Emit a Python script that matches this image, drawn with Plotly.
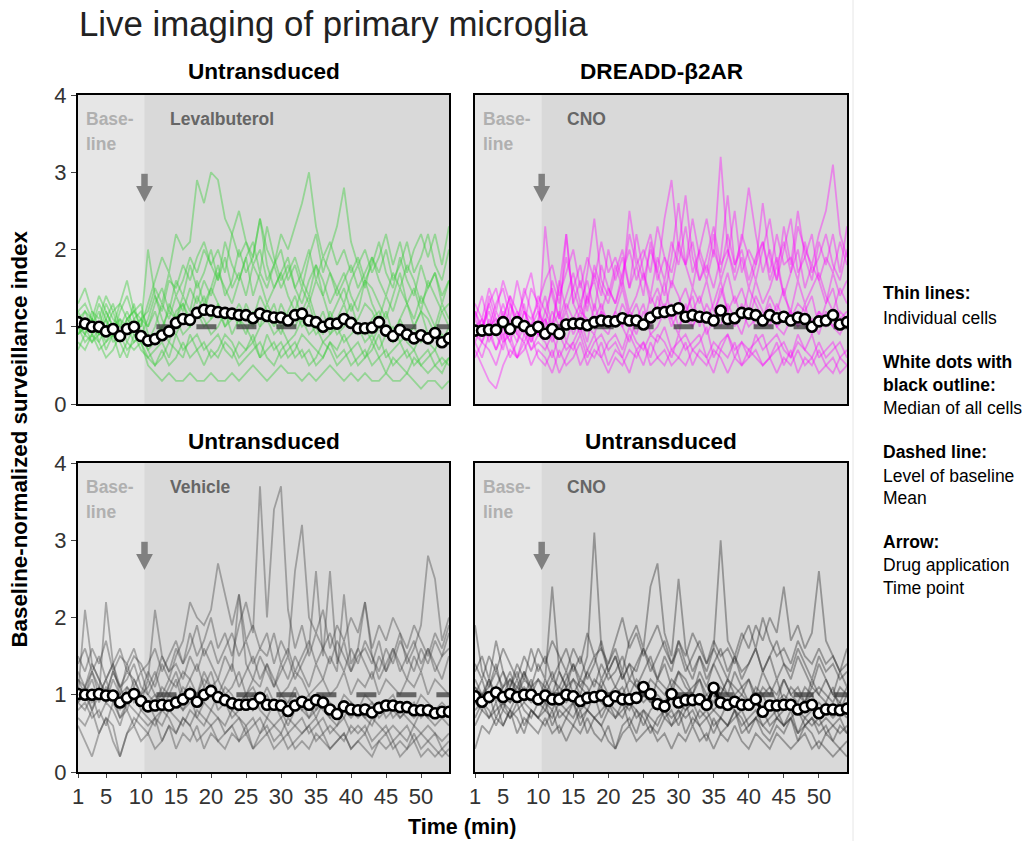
import plotly.graph_objects as go

# ---------------- data ----------------
time_min = list(range(1, 55))
x_tick_vals = [1, 5, 10, 15, 20, 25, 30, 35, 40, 45, 50]
y_tick_vals = [0, 1, 2, 3, 4]

panel_titles = ["Untransduced", "DREADD-β2AR", "Untransduced", "Untransduced"]
drug_labels = ["Levalbuterol", "CNO", "Vehicle", "CNO"]
drug_time = 10.5
baseline_level = 1.0

median_leva = [1.06, 1.04, 1.0, 1.0, 0.94, 0.97, 0.88, 0.97, 1.0, 0.88,
               0.82, 0.84, 0.89, 0.94, 1.05, 1.1, 1.09, 1.18, 1.22, 1.21,
               1.19, 1.18, 1.17, 1.15, 1.15, 1.11, 1.17, 1.14, 1.12, 1.12,
               1.08, 1.15, 1.17, 1.08, 1.06, 1.0, 1.04, 1.04, 1.1, 1.05,
               0.98, 0.98, 0.99, 1.06, 0.95, 0.88, 0.96, 0.9, 0.85, 0.89,
               0.85, 0.92, 0.8, 0.85]
median_dreadd = [0.95, 0.95, 0.96, 0.96, 1.06, 0.97, 1.06, 1.01, 0.95, 1.0,
                 0.91, 0.97, 0.91, 1.03, 1.04, 1.04, 1.02, 1.06, 1.08, 1.07,
                 1.07, 1.11, 1.08, 1.08, 1.03, 1.12, 1.18, 1.19, 1.21, 1.24,
                 1.13, 1.15, 1.13, 1.12, 1.08, 1.21, 1.1, 1.11, 1.18, 1.17,
                 1.15, 1.08, 1.15, 1.11, 1.13, 1.08, 1.12, 1.1, 1.0, 1.07,
                 1.08, 1.15, 1.03, 1.06]
median_vehicle = [1.01, 1.0, 1.0, 1.01, 0.99, 0.99, 0.9, 0.96, 1.01, 0.92,
                  0.85, 0.86, 0.87, 0.86, 0.9, 0.94, 1.01, 0.91, 1.0, 1.05,
                  0.97, 0.93, 0.89, 0.87, 0.87, 0.88, 0.96, 0.87, 0.87, 0.86,
                  0.79, 0.86, 0.91, 0.87, 0.93, 0.9, 0.81, 0.75, 0.85, 0.81,
                  0.8, 0.81, 0.77, 0.83, 0.86, 0.86, 0.84, 0.84, 0.8, 0.8,
                  0.8, 0.76, 0.78, 0.78]
median_cno = [0.98, 0.91, 0.97, 1.03, 0.97, 1.01, 0.97, 1.0, 1.0, 0.94,
              0.99, 0.94, 0.94, 1.0, 0.98, 0.92, 0.96, 0.97, 0.99, 0.92,
              0.98, 0.94, 0.94, 0.96, 1.1, 1.01, 0.88, 0.85, 1.01, 0.9,
              0.93, 0.93, 0.94, 0.87, 1.09, 0.9, 0.87, 0.91, 0.87, 0.87,
              0.94, 0.78, 0.86, 0.86, 0.87, 0.87, 0.81, 0.84, 0.87, 0.76,
              0.81, 0.81, 0.8, 0.82]

cells_leva = [
    [1.1, 1.2, 1.0, 1.3, 1.1, 0.9, 1.2, 1.4, 1.1, 1.0, 1.3, 1.6, 1.9, 1.7, 2.2, 2.0, 2.1, 2.9, 2.6, 3.0,
     2.9, 2.4, 2.2, 1.9, 2.1, 1.8, 2.0, 1.6, 1.8, 1.5, 1.7, 1.9, 1.6, 1.4, 1.8, 1.6, 1.3, 1.5, 1.7, 1.4,
     1.2, 1.6, 1.5, 1.3, 1.1, 1.4, 1.7, 1.3, 1.5, 1.2, 1.6, 1.4, 1.2, 1.3],
    [1.0, 0.9, 1.1, 0.8, 1.0, 1.2, 0.9, 1.0, 1.3, 0.9, 1.1, 1.4, 1.2, 1.6, 1.5, 1.8, 1.6, 1.9, 2.1, 1.8,
     2.0, 1.7, 2.2, 2.5, 2.1, 1.9, 2.4, 2.0, 1.8, 2.2, 2.0, 2.3, 2.6, 3.0, 2.3, 1.9, 2.1, 1.8, 2.0, 1.7,
     1.9, 1.6, 1.8, 2.1, 1.7, 1.5, 1.9, 1.6, 1.4, 1.8, 1.5, 1.7, 1.3, 1.6],
    [0.9, 1.1, 1.0, 1.2, 0.9, 1.0, 1.1, 0.8, 1.0, 1.1, 0.8, 1.0, 1.3, 1.1, 1.4, 1.2, 1.5, 1.3, 1.6, 1.4,
     1.7, 1.5, 1.3, 1.6, 1.9, 1.4, 1.7, 1.5, 1.8, 2.0, 1.6, 1.8, 1.5, 1.9, 2.2, 1.7, 2.0, 2.3, 2.8, 2.1,
     1.8, 2.0, 1.7, 1.9, 2.2, 1.8, 2.1, 1.7, 2.0, 2.2, 1.9, 2.2, 1.8, 2.3],
    [1.0, 0.8, 0.9, 0.7, 0.8, 0.9, 0.6, 0.8, 0.7, 0.8, 0.5, 0.4, 0.3, 0.4, 0.3, 0.3, 0.4, 0.3, 0.3, 0.4,
     0.3, 0.3, 0.4, 0.3, 0.4, 0.5, 0.4, 0.3, 0.4, 0.5, 0.4, 0.4, 0.3, 0.4, 0.3, 0.4, 0.5, 0.4, 0.3, 0.4,
     0.3, 0.4, 0.3, 0.3, 0.4, 0.3, 0.3, 0.4, 0.3, 0.2, 0.3, 0.3, 0.2, 0.3],
    [0.9, 1.0, 0.8, 0.9, 1.1, 0.8, 0.9, 1.0, 0.9, 0.8, 0.6, 0.7, 0.8, 0.6, 0.9, 0.7, 0.8, 0.9, 0.7, 0.8,
     0.9, 0.7, 0.6, 0.8, 0.7, 0.9, 0.6, 0.7, 0.8, 0.6, 0.7, 0.8, 0.6, 0.7, 0.5, 0.6, 0.8, 0.6, 0.7, 0.5,
     0.6, 0.7, 0.5, 0.6, 0.4, 0.6, 0.5, 0.4, 0.6, 0.5, 0.4, 0.5, 0.6, 0.5],
    [1.2, 1.0, 1.1, 0.9, 1.2, 1.0, 0.8, 1.1, 1.2, 1.0, 2.0, 1.4, 1.1, 0.9, 1.2, 1.3, 1.1, 1.4, 1.2, 1.5,
     1.3, 1.1, 1.2, 1.0, 1.3, 1.1, 1.4, 1.2, 1.0, 1.3, 1.1, 1.0, 1.2, 1.4, 1.1, 0.9, 1.2, 1.0, 1.1, 1.3,
     1.0, 0.9, 1.1, 1.2, 1.0, 0.8, 1.1, 0.9, 1.0, 1.2, 0.9, 1.0, 0.8, 1.0],
    [1.3, 1.5, 1.2, 1.1, 1.4, 1.2, 1.3, 1.6, 1.2, 1.1, 1.0, 1.3, 1.5, 1.2, 1.6, 1.4, 1.8, 1.5, 1.7, 2.0,
     1.6, 1.9, 1.5, 1.7, 1.4, 1.8, 1.6, 1.3, 1.5, 1.7, 1.4, 1.2, 1.5, 1.3, 1.6, 1.4, 1.1, 1.3, 1.5, 1.2,
     1.4, 1.6, 1.3, 1.1, 1.4, 1.2, 1.5, 1.3, 1.1, 1.4, 1.2, 1.0, 1.3, 1.1],
    [0.8, 0.7, 0.9, 0.8, 0.6, 0.7, 0.9, 0.7, 0.8, 0.9, 0.7, 0.5, 0.6, 0.8, 0.7, 0.6, 0.9, 0.7, 0.8, 0.6,
     0.7, 0.9, 0.8, 0.6, 0.7, 0.8, 0.6, 0.9, 0.7, 0.8, 0.6, 0.7, 0.9, 0.8, 0.7, 0.6, 0.8, 0.7, 0.9, 0.7,
     0.8, 0.6, 0.7, 0.9, 0.6, 0.7, 0.8, 0.6, 0.7, 0.5, 0.6, 0.7, 0.5, 0.6],
    [1.1, 0.9, 1.2, 1.0, 1.3, 1.1, 1.0, 0.9, 1.1, 1.2, 1.0, 1.2, 0.9, 1.3, 1.1, 1.4, 1.2, 1.6, 1.3, 1.5,
     1.8, 1.4, 1.6, 2.0, 1.7, 1.9, 2.4, 1.8, 1.5, 1.7, 1.9, 1.5, 1.3, 1.6, 1.8, 1.4, 1.7, 1.5, 1.3, 1.6,
     1.8, 1.5, 1.9, 1.7, 2.0, 1.6, 1.8, 2.1, 1.7, 1.9, 2.2, 1.8, 1.6, 2.0],
    [1.0, 1.1, 0.9, 1.0, 0.8, 1.0, 0.9, 1.1, 1.0, 0.9, 0.8, 0.9, 1.0, 0.8, 1.1, 0.9, 1.0, 1.2, 1.1, 0.9,
     1.0, 1.2, 0.9, 1.1, 1.0, 0.8, 1.0, 1.1, 0.9, 1.0, 0.8, 0.9, 1.1, 0.9, 1.0, 0.8, 0.9, 1.0, 0.8, 0.9,
     1.0, 0.8, 0.9, 0.7, 0.9, 0.8, 1.0, 0.8, 0.7, 0.9, 0.8, 0.7, 0.9, 0.8],
    [1.2, 1.3, 1.1, 1.4, 1.2, 1.0, 1.3, 1.1, 1.2, 1.3, 0.9, 0.8, 1.0, 1.2, 1.1, 1.3, 1.0, 1.2, 1.4, 1.1,
     1.3, 1.0, 1.2, 1.1, 0.9, 1.2, 1.0, 1.3, 1.1, 0.9, 1.2, 1.4, 1.1, 1.3, 1.0, 1.2, 0.9, 1.1, 1.3, 1.0,
     1.1, 1.3, 1.2, 1.0, 1.2, 0.9, 1.1, 1.3, 1.0, 1.2, 1.1, 0.9, 1.2, 1.0],
    [0.7, 0.9, 0.8, 1.0, 0.7, 0.9, 0.8, 0.6, 0.9, 0.7, 0.6, 0.5, 0.7, 0.5, 0.6, 0.8, 0.6, 0.7, 0.5, 0.7,
     0.6, 0.8, 0.7, 0.5, 0.6, 0.7, 0.8, 0.6, 0.5, 0.7, 0.8, 0.6, 0.7, 0.5, 0.6, 0.8, 0.7, 0.5, 0.6, 0.7,
     0.5, 0.6, 0.8, 0.6, 0.7, 0.5, 0.6, 0.7, 0.5, 0.6, 0.7, 0.5, 0.4, 0.6],
    [1.0, 1.2, 1.1, 0.9, 1.1, 1.3, 1.0, 1.2, 1.0, 1.1, 1.2, 1.5, 1.3, 1.7, 1.4, 1.6, 1.9, 1.7, 2.0, 1.8,
     1.6, 2.1, 1.8, 1.6, 1.9, 2.1, 1.7, 2.3, 1.9, 1.6, 1.8, 1.5, 1.7, 2.0, 1.6, 1.9, 1.7, 1.4, 1.6, 1.8,
     1.5, 1.7, 1.9, 1.6, 1.4, 1.7, 1.5, 1.8, 1.6, 1.3, 1.5, 1.7, 1.4, 1.6],
    [0.9, 1.0, 1.1, 0.9, 1.0, 0.9, 1.1, 1.0, 0.8, 0.9, 0.7, 0.8, 0.9, 1.0, 0.9, 1.1, 1.0, 1.2, 1.0, 1.1,
     1.2, 1.0, 1.1, 1.3, 1.1, 1.0, 1.2, 1.1, 1.3, 1.0, 1.1, 1.2, 1.0, 1.1, 0.9, 1.0, 1.1, 0.9, 1.0, 1.1,
     0.9, 1.0, 0.8, 1.0, 0.9, 1.0, 0.8, 0.9, 1.0, 0.8, 0.9, 1.0, 0.8, 0.9],
]

cells_dreadd = [
    [1.0, 0.8, 1.1, 0.9, 1.2, 0.9, 1.0, 1.3, 0.8, 1.1, 1.4, 1.0, 1.6, 1.2, 1.5, 1.8, 1.3, 1.7, 1.4, 2.0,
     1.6, 1.9, 1.5, 2.2, 1.7, 1.4, 1.9, 1.6, 2.1, 1.8, 2.3, 1.7, 2.0, 2.4, 1.9, 3.2, 2.0, 1.6, 1.9, 1.5,
     1.8, 2.1, 1.6, 1.9, 1.4, 1.7, 2.0, 1.5, 1.8, 1.6, 1.3, 1.7, 1.4, 1.6],
    [0.9, 1.1, 0.8, 1.0, 1.3, 1.0, 0.8, 1.2, 1.0, 0.9, 1.2, 1.5, 1.1, 1.4, 1.7, 1.3, 1.6, 1.2, 1.8, 1.5,
     1.3, 1.7, 2.0, 1.6, 1.9, 2.2, 1.7, 2.4, 2.9, 2.0, 1.8, 2.1, 1.6, 1.9, 2.3, 1.8, 2.0, 1.7, 2.2, 1.9,
     1.6, 2.0, 2.4, 1.8, 2.1, 1.7, 2.3, 2.0, 1.8, 2.2, 2.5, 3.1, 2.2, 1.9],
    [1.2, 0.9, 1.4, 1.1, 0.8, 1.3, 1.0, 1.5, 1.2, 0.9, 2.3, 1.4, 1.1, 2.2, 1.3, 1.6, 1.2, 1.8, 1.5, 1.3,
     1.7, 2.0, 1.5, 1.8, 1.4, 2.1, 1.6, 1.9, 1.5, 2.0, 2.7, 1.9, 1.6, 1.8, 1.5, 1.9, 2.7, 1.8, 2.1, 2.8,
     2.2, 1.7, 2.0, 1.6, 2.3, 1.8, 2.5, 1.9, 1.6, 2.1, 1.8, 2.2, 1.7, 2.3],
    [0.7, 0.5, 0.3, 0.2, 0.5, 0.7, 0.6, 0.8, 0.5, 0.7, 0.6, 0.4, 0.7, 0.5, 0.6, 0.8, 0.5, 0.7, 0.6, 0.4,
     0.6, 0.5, 0.7, 0.6, 0.8, 0.5, 0.6, 0.7, 0.5, 0.6, 0.5, 0.7, 0.6, 0.5, 0.7, 0.6, 0.4, 0.6, 0.5, 0.7,
     0.6, 0.5, 0.6, 0.4, 0.6, 0.5, 0.7, 0.5, 0.6, 0.4, 0.5, 0.6, 0.4, 0.5],
    [1.0, 1.1, 0.9, 1.2, 1.0, 0.8, 1.1, 0.9, 1.0, 1.2, 0.9, 1.0, 1.2, 0.8, 1.1, 1.3, 1.0, 0.9, 1.2, 1.1,
     1.0, 1.3, 1.1, 0.9, 1.2, 1.0, 1.4, 1.1, 1.3, 1.0, 1.2, 1.4, 1.0, 1.3, 1.1, 1.5, 1.2, 1.0, 1.3, 1.1,
     1.4, 1.2, 1.0, 1.3, 1.1, 1.2, 1.0, 1.3, 0.9, 1.2, 1.1, 1.0, 1.2, 1.1],
    [0.9, 0.8, 1.0, 0.7, 0.9, 0.6, 0.8, 1.0, 0.7, 0.9, 0.8, 0.6, 0.9, 0.7, 0.8, 1.0, 0.7, 0.9, 0.6, 0.8,
     0.9, 0.7, 1.0, 0.8, 0.7, 0.9, 0.8, 1.0, 0.7, 0.8, 0.9, 0.7, 0.8, 1.0, 0.6, 0.8, 0.9, 0.7, 0.8, 0.6,
     0.9, 0.7, 0.8, 0.9, 0.7, 0.6, 0.8, 0.7, 0.9, 0.6, 0.7, 0.8, 0.6, 0.7],
    [1.3, 1.1, 1.5, 1.2, 1.6, 1.3, 1.1, 1.4, 1.7, 1.2, 1.0, 1.6, 1.3, 1.9, 1.5, 1.2, 1.7, 2.4, 1.6, 1.4,
     1.8, 1.5, 2.5, 1.9, 1.6, 2.0, 1.7, 1.4, 1.9, 2.6, 1.8, 1.5, 2.0, 1.7, 2.2, 1.6, 1.9, 2.5, 1.7, 2.0,
     1.8, 2.6, 1.9, 1.6, 2.0, 2.4, 1.7, 1.9, 2.2, 1.6, 1.9, 1.7, 2.1, 1.8],
    [0.8, 1.0, 1.2, 0.9, 0.7, 1.1, 0.9, 0.8, 1.0, 0.9, 1.1, 0.8, 1.0, 1.2, 0.9, 1.1, 0.8, 1.3, 1.0, 0.9,
     1.2, 1.0, 0.8, 1.1, 1.3, 0.9, 1.0, 1.2, 1.1, 0.9, 1.3, 1.0, 1.2, 0.9, 1.1, 1.0, 1.3, 1.1, 0.9, 1.2,
     1.0, 1.1, 1.3, 1.0, 0.9, 1.1, 1.2, 1.0, 1.1, 0.9, 1.2, 1.0, 0.9, 1.1],
    [1.1, 1.4, 1.0, 1.3, 1.5, 1.1, 1.6, 1.2, 1.0, 1.4, 1.2, 1.0, 1.5, 2.2, 1.3, 1.1, 1.4, 1.6, 1.2, 1.5,
     1.3, 1.6, 1.2, 1.4, 1.7, 1.3, 1.5, 1.2, 1.6, 1.4, 1.1, 1.5, 1.3, 1.6, 1.2, 1.4, 1.7, 1.3, 1.5, 1.2,
     1.6, 1.3, 1.5, 1.8, 1.4, 1.2, 1.6, 1.3, 1.5, 1.7, 1.4, 1.2, 1.5, 1.3],
    [0.6, 0.8, 0.7, 0.5, 0.8, 0.9, 0.6, 0.7, 0.9, 0.6, 0.5, 0.7, 0.4, 0.6, 0.8, 0.5, 0.7, 0.6, 0.8, 0.5,
     0.7, 0.6, 0.4, 0.7, 0.5, 0.8, 0.6, 0.5, 0.7, 0.6, 0.8, 0.5, 0.7, 0.6, 0.4, 0.7, 0.6, 0.8, 0.5, 0.6,
     0.7, 0.5, 0.6, 0.8, 0.5, 0.7, 0.4, 0.6, 0.5, 0.7, 0.5, 0.4, 0.6, 0.5],
    [1.1, 0.9, 1.3, 1.0, 1.1, 1.4, 0.9, 1.2, 1.1, 1.3, 0.9, 1.2, 1.0, 1.3, 1.1, 0.9, 1.4, 1.1, 1.3, 1.0,
     1.2, 1.5, 1.1, 1.3, 1.0, 1.4, 1.2, 1.6, 1.1, 1.3, 1.5, 1.2, 1.4, 1.1, 1.3, 1.6, 1.2, 1.4, 1.1, 1.5,
     1.3, 1.1, 1.4, 1.2, 1.5, 1.1, 1.3, 1.2, 1.4, 1.0, 1.3, 1.5, 1.1, 1.2],
    [0.8, 0.6, 0.9, 0.7, 1.0, 0.8, 0.6, 0.9, 0.7, 0.8, 0.7, 0.9, 0.6, 0.8, 0.7, 0.9, 0.6, 0.8, 0.9, 0.7,
     0.8, 0.6, 0.9, 0.7, 0.8, 0.6, 0.9, 0.8, 0.6, 0.9, 0.7, 0.8, 0.9, 0.6, 0.8, 0.7, 0.9, 0.6, 0.8, 0.7,
     0.8, 0.9, 0.6, 0.7, 0.8, 0.6, 0.9, 0.7, 0.6, 0.8, 0.6, 0.7, 0.8, 0.6],
    [1.2, 1.0, 1.3, 1.5, 1.1, 1.4, 1.2, 1.0, 1.5, 1.3, 1.6, 1.8, 1.4, 1.7, 2.0, 1.5, 1.9, 1.6, 2.1, 1.7,
     1.9, 1.6, 2.2, 1.8, 2.0, 1.7, 2.3, 1.9, 1.7, 2.1, 1.8, 2.4, 1.9, 1.6, 2.0, 1.7, 2.2, 1.8, 2.0, 1.6,
     1.9, 2.1, 1.7, 2.2, 1.8, 1.9, 1.6, 2.1, 1.7, 1.9, 2.2, 1.8, 1.6, 2.0],
    [1.0, 0.9, 1.0, 1.1, 0.9, 1.0, 1.2, 1.0, 0.8, 1.0, 1.1, 0.9, 1.0, 1.1, 1.0, 1.2, 1.1, 1.0, 1.2, 1.0,
     1.1, 1.0, 1.2, 1.1, 1.0, 1.2, 1.1, 1.3, 1.0, 1.2, 1.1, 1.0, 1.2, 1.1, 1.0, 1.2, 1.0, 1.1, 1.2, 1.0,
     1.1, 1.0, 1.2, 1.0, 1.1, 1.2, 1.0, 1.1, 1.0, 1.2, 1.0, 1.1, 1.0, 1.1],
]

cells_vehicle = [
    [1.2, 1.0, 1.3, 1.1, 0.9, 1.2, 1.0, 1.4, 1.1, 1.3, 1.0, 1.2, 1.5, 1.3, 1.6, 1.4, 1.8, 1.5, 1.7, 2.0,
     1.6, 1.8, 1.5, 1.9, 2.2, 1.8, 3.7, 2.0, 3.4, 3.7, 2.1, 1.6, 1.9, 1.5, 1.8, 1.6, 1.4, 1.7, 1.5, 1.3,
     1.6, 1.4, 1.2, 1.5, 1.3, 1.6, 1.4, 1.2, 1.5, 1.3, 1.6, 1.4, 1.2, 1.5],
    [1.0, 2.1, 1.4, 1.2, 1.0, 1.3, 1.1, 0.9, 1.2, 1.0, 1.3, 1.1, 1.4, 1.2, 1.5, 1.7, 2.2, 2.0, 1.9, 2.1,
     2.7, 2.3, 1.9, 2.3, 1.7, 1.9, 1.6, 1.8, 1.4, 1.7, 1.5, 2.6, 3.2, 2.0, 1.8, 2.1, 1.6, 1.9, 1.7, 2.0,
     1.8, 2.2, 1.6, 1.9, 1.7, 2.0, 1.8, 1.6, 1.9, 1.7, 1.5, 1.8, 1.6, 1.9],
    [0.9, 1.1, 0.8, 1.0, 2.2, 1.4, 1.0, 0.8, 1.1, 0.9, 1.2, 1.0, 0.9, 1.1, 1.3, 1.0, 1.2, 1.4, 1.1, 1.3,
     1.0, 1.2, 1.4, 1.1, 1.3, 1.5, 1.2, 1.4, 1.1, 1.3, 1.5, 1.2, 1.4, 1.6, 2.6, 1.5, 2.6, 1.4, 1.7, 1.3,
     1.5, 1.6, 1.4, 1.7, 1.3, 1.5, 1.8, 1.4, 1.6, 1.9, 2.8, 2.5, 1.7, 2.0],
    [0.6, 0.4, 0.2, 0.5, 0.7, 0.4, 0.2, 0.5, 0.6, 0.4, 0.5, 0.3, 0.4, 0.6, 0.3, 0.5, 0.4, 0.6, 0.3, 0.5,
     0.4, 0.3, 0.5, 0.4, 0.6, 0.3, 0.4, 0.5, 0.3, 0.4, 0.5, 0.3, 0.4, 0.3, 0.5, 0.4, 0.3, 0.4, 0.5, 0.3,
     0.4, 0.3, 0.2, 0.4, 0.3, 0.4, 0.2, 0.3, 0.4, 0.2, 0.3, 0.2, 0.3, 0.2],
    [1.1, 1.0, 1.2, 0.9, 1.1, 1.0, 0.8, 1.1, 1.0, 0.9, 0.8, 0.9, 1.0, 0.8, 0.9, 1.1, 1.0, 0.9, 1.1, 1.0,
     0.9, 1.0, 0.8, 0.9, 1.0, 0.8, 0.9, 1.1, 0.9, 0.8, 0.9, 1.0, 0.8, 0.9, 0.7, 0.9, 0.8, 0.7, 0.9, 0.8,
     0.7, 0.8, 0.9, 0.7, 0.8, 0.9, 0.7, 0.8, 0.7, 0.8, 0.7, 0.8, 0.7, 0.8],
    [0.8, 0.9, 0.7, 0.8, 0.6, 0.9, 0.7, 0.8, 0.6, 0.8, 0.7, 0.6, 0.8, 0.7, 0.5, 0.7, 0.6, 0.8, 0.7, 0.6,
     0.7, 0.5, 0.6, 0.7, 0.5, 0.6, 0.7, 0.5, 0.6, 0.5, 0.7, 0.6, 0.5, 0.6, 0.7, 0.5, 0.6, 0.5, 0.4, 0.6,
     0.5, 0.6, 0.4, 0.5, 0.6, 0.4, 0.5, 0.6, 0.4, 0.5, 0.4, 0.5, 0.3, 0.4],
    [1.4, 1.6, 1.3, 1.5, 1.2, 1.4, 1.6, 1.3, 1.5, 1.4, 1.2, 2.1, 1.5, 1.3, 1.4, 1.2, 1.5, 1.3, 1.6, 1.4,
     1.2, 1.5, 1.3, 2.3, 1.4, 1.2, 1.5, 1.3, 1.1, 1.4, 1.2, 1.5, 1.3, 1.1, 1.4, 1.2, 1.5, 1.3, 2.3, 1.4,
     1.6, 2.2, 1.5, 1.2, 1.4, 1.6, 1.3, 1.5, 1.7, 1.4, 1.6, 1.3, 1.5, 1.8],
    [0.9, 1.0, 0.8, 1.1, 0.9, 1.0, 0.7, 0.9, 1.0, 0.8, 0.9, 0.7, 0.8, 1.0, 0.9, 0.8, 1.0, 0.7, 0.9, 1.1,
     0.8, 0.9, 0.7, 0.8, 0.9, 1.0, 0.8, 0.7, 0.9, 0.8, 0.6, 0.8, 0.9, 0.7, 0.8, 0.9, 0.7, 0.6, 0.8, 0.7,
     0.8, 0.7, 0.6, 0.8, 0.9, 0.7, 0.8, 0.7, 0.6, 0.8, 0.7, 0.6, 0.7, 0.6],
    [1.2, 1.1, 1.3, 1.0, 1.2, 1.4, 1.1, 1.3, 1.2, 1.0, 1.1, 1.3, 1.0, 1.2, 1.1, 1.3, 1.2, 1.0, 1.3, 1.1,
     1.2, 1.0, 1.1, 1.3, 1.0, 1.2, 1.1, 1.4, 1.2, 1.0, 1.1, 1.3, 1.2, 1.0, 1.1, 1.2, 1.0, 1.1, 1.3, 1.0,
     1.2, 1.1, 1.3, 1.0, 1.2, 1.1, 1.0, 1.2, 1.1, 1.3, 1.0, 1.2, 1.1, 1.0],
    [0.7, 0.6, 0.8, 0.5, 0.7, 0.6, 0.2, 0.5, 0.7, 0.6, 0.5, 0.7, 0.4, 0.6, 0.5, 0.7, 0.6, 0.4, 0.5, 0.6,
     0.4, 0.5, 0.6, 0.4, 0.5, 0.3, 0.5, 0.6, 0.4, 0.5, 0.3, 0.4, 0.5, 0.6, 0.4, 0.5, 0.3, 0.4, 0.5, 0.3,
     0.4, 0.5, 0.3, 0.4, 0.5, 0.3, 0.4, 0.3, 0.5, 0.3, 0.4, 0.3, 0.2, 0.3],
    [1.3, 1.1, 1.4, 1.2, 1.0, 1.3, 1.1, 1.2, 1.4, 1.1, 1.0, 0.9, 1.1, 1.0, 1.2, 0.9, 1.1, 1.0, 1.2, 1.1,
     0.9, 1.1, 1.0, 0.8, 1.0, 1.1, 0.9, 1.0, 0.8, 1.0, 0.9, 1.1, 0.9, 1.0, 0.8, 1.0, 0.9, 0.8, 1.0, 0.9,
     0.8, 1.0, 0.9, 0.8, 0.9, 1.0, 0.8, 0.9, 0.8, 1.0, 0.9, 0.8, 0.9, 0.8],
    [0.9, 0.8, 1.0, 0.7, 0.9, 0.8, 0.6, 0.9, 0.8, 0.7, 0.6, 0.7, 0.6, 0.8, 0.7, 0.6, 0.8, 0.7, 0.6, 0.8,
     0.7, 0.6, 0.8, 0.7, 0.6, 0.7, 0.5, 0.7, 0.6, 0.7, 0.5, 0.6, 0.7, 0.5, 0.6, 0.7, 0.5, 0.6, 0.7, 0.5,
     0.6, 0.5, 0.7, 0.6, 0.5, 0.6, 0.5, 0.4, 0.6, 0.5, 0.6, 0.5, 0.4, 0.5],
    [1.5, 1.3, 1.6, 1.4, 1.7, 1.3, 1.5, 1.4, 1.6, 1.3, 1.4, 1.6, 1.3, 1.5, 1.7, 1.4, 1.6, 1.9, 1.5, 1.7,
     1.4, 1.6, 1.8, 1.5, 1.7, 1.4, 1.6, 1.5, 1.8, 1.4, 1.6, 1.3, 1.5, 1.7, 1.4, 1.6, 1.8, 1.5, 1.3, 1.6,
     1.4, 1.7, 1.5, 1.3, 1.6, 1.4, 1.7, 1.5, 1.3, 1.6, 1.4, 1.7, 1.5, 1.6],
    [1.0, 1.1, 0.9, 1.0, 1.2, 0.9, 1.0, 1.1, 0.9, 1.0, 0.9, 1.0, 0.8, 0.9, 1.0, 0.8, 0.9, 1.0, 0.9, 0.8,
     1.0, 0.9, 0.8, 0.9, 1.0, 0.8, 0.9, 0.8, 0.9, 0.7, 0.8, 0.9, 0.8, 0.7, 0.9, 0.8, 0.7, 0.8, 0.7, 0.9,
     0.8, 0.7, 0.8, 0.9, 0.7, 0.8, 0.7, 0.8, 0.9, 0.7, 0.8, 0.7, 0.8, 0.7],
]

cells_cno = [
    [1.0, 1.2, 0.9, 1.1, 1.3, 1.0, 1.2, 0.9, 1.1, 1.4, 1.2, 2.4, 1.3, 1.1, 1.4, 1.2, 1.5, 3.1, 1.6, 1.3,
     1.5, 1.2, 1.4, 1.1, 1.3, 1.5, 1.2, 1.4, 1.1, 1.3, 1.2, 1.0, 1.3, 1.1, 1.4, 1.2, 1.0, 1.3, 1.1, 1.2,
     1.0, 1.3, 1.1, 0.9, 1.2, 1.0, 1.1, 0.9, 1.2, 1.0, 0.9, 1.1, 0.8, 1.0],
    [1.1, 0.9, 1.2, 1.0, 0.8, 1.1, 1.3, 1.0, 1.2, 0.9, 1.1, 1.3, 1.0, 1.2, 1.4, 1.1, 1.3, 1.5, 1.2, 1.4,
     1.6, 1.3, 1.7, 1.9, 1.6, 2.4, 2.7, 1.8, 1.5, 2.5, 1.6, 1.3, 1.5, 1.2, 1.4, 1.6, 1.3, 1.5, 1.2, 1.4,
     1.6, 1.3, 1.5, 1.7, 1.4, 1.2, 1.5, 1.3, 1.1, 1.4, 1.2, 1.0, 1.3, 1.1],
    [1.9, 1.3, 1.1, 1.4, 1.0, 1.2, 1.1, 1.3, 1.0, 1.2, 1.1, 1.0, 1.3, 1.1, 1.2, 1.0, 1.3, 1.1, 1.4, 1.2,
     1.3, 1.5, 1.2, 1.4, 1.6, 1.3, 1.5, 1.7, 1.4, 1.6, 1.3, 1.5, 1.7, 1.4, 1.6, 3.0, 1.7, 1.5, 1.8, 1.6,
     1.9, 1.7, 2.0, 1.8, 2.4, 1.7, 1.9, 1.6, 1.8, 2.6, 1.7, 1.5, 1.3, 1.6],
    [0.3, 0.6, 0.5, 0.7, 0.6, 0.8, 0.5, 0.7, 0.6, 0.5, 0.7, 0.5, 0.6, 0.4, 0.6, 0.5, 0.7, 0.5, 0.4, 0.6,
     0.3, 0.5, 0.6, 0.4, 0.5, 0.6, 0.4, 0.5, 0.3, 0.5, 0.4, 0.6, 0.4, 0.5, 0.3, 0.5, 0.4, 0.6, 0.4, 0.3,
     0.5, 0.4, 0.3, 0.5, 0.4, 0.3, 0.4, 0.5, 0.3, 0.4, 0.3, 0.2, 0.3, 0.2],
    [1.0, 1.0, 0.9, 1.1, 1.0, 0.9, 1.0, 1.1, 1.0, 0.9, 1.0, 0.9, 1.0, 1.1, 0.9, 1.0, 0.9, 1.0, 1.1, 0.9,
     1.0, 1.1, 0.9, 1.0, 1.0, 0.9, 1.0, 0.9, 1.1, 1.0, 0.9, 1.0, 0.9, 1.0, 0.9, 1.1, 1.0, 0.9, 1.0, 0.9,
     0.9, 1.0, 0.8, 0.9, 1.0, 0.9, 0.8, 0.9, 1.0, 0.8, 0.9, 0.8, 0.9, 0.8],
    [0.9, 0.8, 1.0, 0.7, 0.9, 0.8, 1.0, 0.8, 0.7, 0.9, 0.8, 1.0, 0.7, 0.8, 0.9, 0.7, 0.8, 1.0, 0.7, 0.9,
     0.8, 0.7, 0.9, 0.8, 0.6, 0.8, 0.9, 0.7, 0.8, 0.6, 0.8, 0.9, 0.7, 0.8, 0.6, 0.7, 0.9, 0.8, 0.6, 0.7,
     0.8, 0.6, 0.7, 0.8, 0.6, 0.7, 0.5, 0.7, 0.6, 0.7, 0.5, 0.6, 0.7, 0.5],
    [1.3, 1.5, 1.2, 1.7, 1.3, 1.1, 1.4, 1.2, 1.6, 1.3, 1.5, 1.2, 1.4, 1.6, 1.3, 1.5, 1.2, 1.4, 1.7, 1.3,
     1.5, 1.2, 1.4, 1.3, 1.6, 1.4, 1.2, 1.5, 1.3, 1.7, 1.4, 1.2, 1.5, 1.3, 1.6, 1.4, 1.2, 1.5, 1.3, 1.4,
     1.6, 1.3, 1.5, 1.2, 1.4, 1.3, 1.6, 1.4, 1.2, 1.5, 1.3, 1.4, 1.2, 1.3],
    [0.7, 0.9, 0.8, 0.6, 0.8, 0.7, 0.9, 0.6, 0.8, 0.7, 0.9, 0.6, 0.8, 0.7, 0.9, 0.6, 0.8, 0.7, 0.6, 0.8,
     0.7, 0.9, 0.6, 0.8, 0.7, 0.5, 0.7, 0.8, 0.6, 0.7, 0.9, 0.6, 0.8, 0.7, 0.5, 0.7, 0.6, 0.8, 0.7, 0.5,
     0.7, 0.6, 0.5, 0.7, 0.6, 0.8, 0.5, 0.6, 0.7, 0.5, 0.6, 0.4, 0.6, 0.5],
    [1.1, 1.0, 1.2, 0.9, 1.1, 1.3, 1.0, 1.2, 1.1, 0.9, 1.2, 1.0, 1.1, 1.3, 1.0, 1.2, 1.1, 0.9, 1.2, 1.0,
     1.1, 1.3, 1.0, 1.2, 1.1, 0.9, 1.2, 1.1, 1.0, 1.3, 1.1, 1.0, 1.2, 0.9, 1.1, 1.0, 1.2, 1.1, 1.0, 1.2,
     0.9, 1.1, 1.0, 1.2, 0.9, 1.1, 1.0, 0.9, 1.1, 1.0, 1.2, 1.0, 0.9, 1.1],
    [0.6, 0.8, 0.7, 0.9, 0.6, 0.8, 0.7, 0.5, 0.8, 0.7, 0.6, 0.8, 0.5, 0.7, 0.6, 0.8, 0.5, 0.7, 0.6, 0.4,
     0.3, 0.6, 0.7, 0.5, 0.8, 0.6, 0.5, 0.7, 0.6, 0.8, 0.5, 0.7, 0.6, 0.4, 0.7, 0.5, 0.6, 0.8, 0.5, 0.6,
     0.7, 0.5, 0.4, 0.6, 0.5, 0.7, 0.4, 0.6, 0.5, 0.3, 0.5, 0.4, 0.3, 0.4],
    [1.2, 1.0, 1.1, 1.3, 1.1, 1.2, 1.0, 1.3, 1.1, 1.2, 1.0, 1.2, 1.1, 1.0, 1.2, 1.1, 1.0, 1.2, 1.1, 1.3,
     1.1, 1.0, 1.2, 1.1, 1.0, 1.2, 1.1, 1.0, 1.2, 1.1, 1.0, 1.1, 1.2, 1.0, 1.1, 1.0, 1.2, 1.0, 1.1, 0.9,
     1.1, 1.0, 1.1, 1.0, 1.2, 1.0, 0.9, 1.1, 1.0, 1.1, 1.0, 0.9, 1.1, 1.0],
    [0.8, 0.9, 0.7, 0.8, 0.9, 0.7, 0.8, 0.9, 0.8, 0.7, 0.8, 0.7, 0.9, 0.8, 0.7, 0.9, 0.8, 0.7, 0.8, 0.9,
     0.7, 0.8, 0.9, 0.7, 0.8, 0.7, 0.6, 0.8, 0.7, 0.8, 0.7, 0.8, 0.6, 0.7, 0.8, 0.7, 0.6, 0.7, 0.8, 0.6,
     0.7, 0.8, 0.6, 0.7, 0.6, 0.7, 0.8, 0.6, 0.7, 0.6, 0.7, 0.6, 0.5, 0.6],
    [1.4, 1.2, 1.5, 1.3, 1.6, 1.4, 1.2, 1.5, 1.3, 1.6, 1.4, 1.7, 1.5, 1.3, 1.6, 1.4, 1.8, 1.5, 1.6, 1.4,
     1.7, 2.0, 1.6, 1.8, 1.5, 1.7, 1.9, 1.6, 1.4, 1.7, 1.5, 1.8, 1.6, 1.4, 1.7, 1.5, 1.6, 1.4, 1.7, 1.9,
     1.6, 2.0, 1.7, 1.5, 1.6, 1.4, 1.7, 1.5, 1.4, 1.6, 1.4, 1.5, 1.3, 1.4],
    [0.9, 1.0, 0.9, 1.1, 1.0, 0.9, 1.1, 1.0, 0.9, 1.0, 0.9, 0.8, 1.0, 0.9, 1.0, 0.8, 0.9, 1.0, 0.9, 0.8,
     1.0, 0.9, 0.8, 1.0, 0.9, 1.0, 0.8, 0.9, 1.0, 0.9, 0.8, 0.9, 1.0, 0.9, 0.8, 0.9, 0.8, 1.0, 0.9, 0.8,
     0.9, 0.8, 0.9, 0.7, 0.8, 0.9, 0.8, 0.7, 0.8, 0.9, 0.8, 0.7, 0.8, 0.7],
]

legend_lines = [
    ("<b>Thin lines:</b>", 293.5), ("Individual cells", 317.5),
    ("<b>White dots with</b>", 361.5), ("<b>black outline:</b>", 385), ("Median of all cells", 408),
    ("<b>Dashed line:</b>", 452), ("Level of baseline", 475.5), ("Mean", 498),
    ("<b>Arrow:</b>", 542), ("Drug application", 565), ("Time point", 588),
]

# ---------------- styling / layout ----------------
W, H = 1027, 841
FONT = "Liberation Sans, Arial, sans-serif"
cell_colors = ["rgba(55,205,55,0.42)", "rgba(255,0,255,0.38)",
               "rgba(60,60,60,0.38)", "rgba(35,35,35,0.38)"]
dash_color = "rgba(60,60,60,0.75)"


def px_x(p):
    return p / W


def px_y(p):
    return 1 - p / H


panel_px = [((78, 449), (95, 404)), ((475, 847), (95, 404)),
            ((78, 449), (463, 772)), ((475, 847), (463, 772))]

panels = [
    (cells_leva, median_leva),
    (cells_dreadd, median_dreadd),
    (cells_vehicle, median_vehicle),
    (cells_cno, median_cno),
]

fig = go.Figure()
layout_axes = {}
annotations = []
shapes = []

for i, ((cells, med), ((x0, x1), (y0, y1))) in enumerate(zip(panels, panel_px)):
    n = i + 1
    xa = "x" if n == 1 else f"x{n}"
    ya = "y" if n == 1 else f"y{n}"
    xkey = "xaxis" if n == 1 else f"xaxis{n}"
    ykey = "yaxis" if n == 1 else f"yaxis{n}"
    bottom = i >= 2
    left = i % 2 == 0

    layout_axes[xkey] = dict(
        domain=[px_x(x0), px_x(x1)], range=[1, 54], anchor=ya, automargin=False,
        tickvals=x_tick_vals, showticklabels=bottom,
        ticks="outside" if bottom else "", ticklen=4, tickcolor="#444",
        tickfont=dict(size=22, color="#333", family=FONT),
        showgrid=False, zeroline=False, showline=True, mirror=True,
        linecolor="black", linewidth=2,
    )
    layout_axes[ykey] = dict(
        domain=[px_y(y1), px_y(y0)], range=[0, 4], anchor=xa, automargin=False,
        tickvals=y_tick_vals, showticklabels=left,
        ticks="outside" if left else "", ticklen=5, tickcolor="#444",
        tickfont=dict(size=22, color="#333", family=FONT),
        showgrid=False, zeroline=False, showline=True, mirror=True,
        linecolor="black", linewidth=2,
    )

    # baseline shading
    shapes.append(dict(type="rect", xref=xa, yref=ya, x0=1, x1=drug_time, y0=0, y1=4,
                       fillcolor="#e6e6e6", line=dict(width=0), layer="below"))
    # drug application arrow (shaft + head)
    shapes.append(dict(type="line", xref=xa, yref=ya, x0=drug_time, x1=drug_time,
                       y0=2.98, y1=2.80, line=dict(color="#808080", width=6.5)))
    shapes.append(dict(type="path", xref=xa, yref=ya,
                       path=f"M {drug_time - 1.2},2.822 L {drug_time + 1.2},2.822 L {drug_time},2.615 Z",
                       fillcolor="#808080", line=dict(width=0)))

    for c in cells:
        fig.add_trace(go.Scatter(x=time_min, y=c, mode="lines", xaxis=xa, yaxis=ya,
                                 line=dict(color=cell_colors[i], width=1.8),
                                 showlegend=False, hoverinfo="skip"))

    fig.add_trace(go.Scatter(x=[12.2, 54], y=[baseline_level, baseline_level], mode="lines",
                             xaxis=xa, yaxis=ya,
                             line=dict(color=dash_color, width=5, dash="20px,20px"),
                             showlegend=False, hoverinfo="skip"))

    fig.add_trace(go.Scatter(x=time_min, y=med, mode="lines+markers", xaxis=xa, yaxis=ya,
                             line=dict(color="black", width=3.5),
                             marker=dict(size=10, color="white", line=dict(color="black", width=2.6)),
                             showlegend=False))

    # texts inside panel
    annotations.append(dict(xref=xa, yref=ya, x=1.9, y=3.69, xanchor="left", yanchor="middle",
                            text="<b>Base-</b>", showarrow=False,
                            font=dict(size=17.5, color="#b0b0b0", family=FONT)))
    annotations.append(dict(xref=xa, yref=ya, x=1.9, y=3.37, xanchor="left", yanchor="middle",
                            text="<b>line</b>", showarrow=False,
                            font=dict(size=17.5, color="#b0b0b0", family=FONT)))
    annotations.append(dict(xref=xa, yref=ya, x=13.8, y=3.69, xanchor="left", yanchor="middle",
                            text=f"<b>{drug_labels[i]}</b>", showarrow=False,
                            font=dict(size=17.5, color="#666666", family=FONT)))
    # panel title
    annotations.append(dict(xref="paper", yref="paper", x=px_x((x0 + x1) / 2),
                            y=px_y(71 if i < 2 else 441.5), xanchor="center", yanchor="middle",
                            text=f"<b>{panel_titles[i]}</b>", showarrow=False,
                            font=dict(size=22.6, color="black", family=FONT)))

annotations.append(dict(xref="paper", yref="paper", x=px_x(77), y=px_y(24),
                        xanchor="left", yanchor="middle", showarrow=False,
                        text="Live imaging of primary microglia",
                        font=dict(size=34.8, color="#222", family=FONT)))
annotations.append(dict(xref="paper", yref="paper", x=px_x(18.5), y=px_y(439),
                        xanchor="center", yanchor="middle", showarrow=False, textangle=-90,
                        text="<b>Baseline-normalized surveillance index</b>",
                        font=dict(size=22.3, color="black", family=FONT)))
annotations.append(dict(xref="paper", yref="paper", x=px_x(462), y=px_y(826.5),
                        xanchor="center", yanchor="middle", showarrow=False,
                        text="<b>Time (min)</b>",
                        font=dict(size=21.5, color="black", family=FONT)))
for txt, py in legend_lines:
    annotations.append(dict(xref="paper", yref="paper", x=px_x(881), y=px_y(py),
                            xanchor="left", yanchor="middle", showarrow=False, text=txt,
                            font=dict(size=17.5, color="black", family=FONT)))

shapes.append(dict(type="line", xref="paper", yref="paper", x0=px_x(853), x1=px_x(853),
                   y0=0, y1=1, line=dict(color="#e6e6e6", width=1)))

fig.update_layout(
    width=W, height=H, margin=dict(l=0, r=0, t=0, b=0, autoexpand=False),
    paper_bgcolor="white", plot_bgcolor="#d9d9d9",
    annotations=annotations, shapes=shapes, showlegend=False,
    font=dict(family=FONT),
    **layout_axes,
)

fig.write_html(
    "out.html",
    config={"displayModeBar": False},
    post_script="document.body.style.margin='0';document.body.style.overflow='hidden';",
)
